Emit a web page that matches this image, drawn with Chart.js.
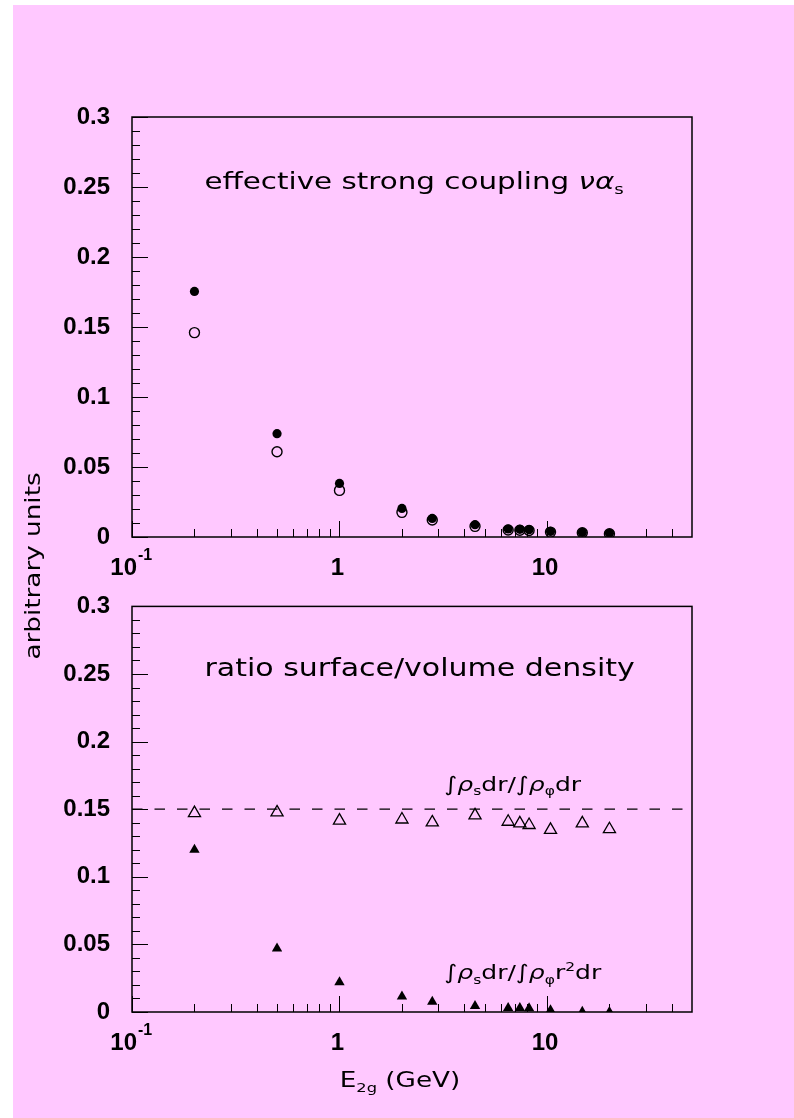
<!DOCTYPE html>
<html>
<head>
<meta charset="utf-8">
<script src="https://cdn.jsdelivr.net/npm/chart.js@4.4.1/dist/chart.umd.min.js"></script>
<style>
  html, body { margin: 0; padding: 0; background: #fff; }
  #page { position: relative; width: 794px; height: 1118px; overflow: hidden; }
  #pink { position: absolute; left: 13px; top: 5px; right: 0; bottom: 0; background: #ffc8ff; }
  canvas { position: absolute; left: 0; }
  #topChart { top: 0; }
  #bottomChart { top: 570px; }
</style>
</head>
<body>
<div id="page">
  <div id="pink"></div>
  <canvas id="topChart" width="794" height="660"></canvas>
  <canvas id="bottomChart" width="794" height="548"></canvas>
</div>
<script>
// E_2g values (GeV), shared by both panels
const energies = [0.2, 0.5, 1, 2, 2.8, 4.5, 6.5, 7.4, 8.2, 10.4, 14.8, 20];

// top panel: effective strong coupling
const couplingFilled = [0.1754, 0.0738, 0.0383, 0.0204, 0.0133, 0.0088, 0.0057, 0.0055, 0.0052, 0.0040, 0.0033, 0.0026];
const couplingOpen   = [0.1460, 0.0609, 0.0333, 0.0176, 0.0121, 0.0076, 0.0050, 0.0048, 0.0046, 0.0035, 0.0030, 0.0023];

// bottom panel: ratio surface/volume density
const ratioOpen   = [0.1471, 0.1476, 0.1416, 0.1424, 0.1402, 0.1454, 0.1407, 0.1395, 0.1383, 0.1347, 0.1395, 0.1352];
const ratioFilled = [0.1200, 0.0470, 0.0220, 0.0115, 0.0075, 0.0044, 0.0029, 0.0029, 0.0028, 0.0013, 0.0001, 0.0000];
const refLineX = [0.1, 45];
const refLineY = 0.15;

// axes
const yMajorTicks = [0, 0.05, 0.1, 0.15, 0.2, 0.25, 0.3];
const yMinorTicks = [0.01, 0.02, 0.03, 0.04, 0.06, 0.07, 0.08, 0.09, 0.11, 0.12, 0.13, 0.14,
                     0.16, 0.17, 0.18, 0.19, 0.21, 0.22, 0.23, 0.24, 0.26, 0.27, 0.28, 0.29];
const xMajorTicks = [0.1, 1, 10];
const xMinorTicks = [0.2, 0.3, 0.4, 0.5, 0.6, 0.7, 0.8, 0.9, 2, 3, 4, 5, 6, 7, 8, 9, 20, 30, 40];
const xTickLabels = ['10', '1', '10'];

const TEXT_FONT = '"DejaVu Sans"';
const TICK_FONT = '"Liberation Sans"';
const TICK_SIZE = 24;
const WIDE = 1.25; // the original plot font is a wide gothic face

const points = ys => energies.map((e, i) => ({ x: e, y: ys[i] }));

// draws text pieces with sub/superscripts, horizontally stretched
function richWidth(ctx, parts, size) {
    let w = 0;
    parts.forEach(p => {
        const fs = (p.sub || p.sup) ? size * 0.62 : size;
        ctx.font = `${p.italic ? 'italic ' : ''}${fs}px ${TEXT_FONT}`;
        w += ctx.measureText(p.t).width;
    });
    return w * WIDE;
}

function drawRich(ctx, parts, x, y, size, align) {
    ctx.save();
    let start = x;
    if (align === 'center') start = x - richWidth(ctx, parts, size) / 2;
    ctx.translate(start, y);
    ctx.scale(WIDE, 1);
    ctx.fillStyle = '#000';
    ctx.textAlign = 'left';
    ctx.textBaseline = 'alphabetic';
    let cx = 0;
    parts.forEach(p => {
        const fs = (p.sub || p.sup) ? size * 0.62 : size;
        ctx.font = `${p.italic ? 'italic ' : ''}${fs}px ${TEXT_FONT}`;
        const dy = p.sub ? size * 0.22 : (p.sup ? -size * 0.42 : 0);
        ctx.fillText(p.t, cx, dy);
        cx += ctx.measureText(p.t).width;
    });
    ctx.restore();
}

// frame, inward ticks, x labels and in-plot texts
function framePlugin(texts, extra) {
    return {
        id: 'frame',
        afterDraw(chart) {
            const { ctx, chartArea: a, scales: { x, y } } = chart;
            ctx.save();
            ctx.strokeStyle = '#000';
            ctx.lineWidth = 1;
            ctx.beginPath();
            yMajorTicks.forEach(v => {
                const py = Math.round(y.getPixelForValue(v)) + 0.5;
                ctx.moveTo(a.left, py); ctx.lineTo(a.left + 16, py);
            });
            yMinorTicks.forEach(v => {
                const py = Math.round(y.getPixelForValue(v)) + 0.5;
                ctx.moveTo(a.left, py); ctx.lineTo(a.left + 8, py);
            });
            xMajorTicks.forEach(v => {
                const px = Math.round(x.getPixelForValue(v)) + 0.5;
                ctx.moveTo(px, a.bottom); ctx.lineTo(px, a.bottom - 16);
            });
            xMinorTicks.forEach(v => {
                const px = Math.round(x.getPixelForValue(v)) + 0.5;
                ctx.moveTo(px, a.bottom); ctx.lineTo(px, a.bottom - 8);
            });
            ctx.stroke();

            ctx.lineWidth = 1.5;
            ctx.strokeRect(a.left, a.top, a.right - a.left, a.bottom - a.top);

            // x tick labels (10^-1, 1, 10)
            ctx.fillStyle = '#000';
            ctx.textBaseline = 'middle';
            const ly = a.bottom + 31;
            xMajorTicks.forEach((v, i) => {
                const px = x.getPixelForValue(v);
                ctx.font = `bold ${TICK_SIZE}px ${TICK_FONT}`;
                if (v < 1) {
                    ctx.textAlign = 'right';
                    ctx.fillText(xTickLabels[i], px + 5, ly);
                    ctx.font = `bold 16px ${TICK_FONT}`;
                    ctx.textAlign = 'left';
                    ctx.fillText('-1', px + 6, ly - 12);
                } else {
                    ctx.textAlign = 'center';
                    ctx.fillText(xTickLabels[i], px - 2, ly);
                }
            });

            texts.forEach(t => {
                drawRich(ctx, t.parts, x.getPixelForValue(t.x), y.getPixelForValue(t.y), t.size, 'left');
            });
            if (extra) extra(chart);
            ctx.restore();
        }
    };
}

function makeChart(id, datasets, padTop, xAxisHeight, texts, extra) {
    return new Chart(document.getElementById(id), {
        type: 'scatter',
        data: { datasets },
        options: {
            responsive: false,
            animation: false,
            events: [],
            layout: { padding: { left: 0, right: 102, top: padTop, bottom: 0 } },
            plugins: { legend: { display: false }, tooltip: { enabled: false } },
            scales: {
                x: {
                    type: 'logarithmic',
                    min: 0.1,
                    max: 50,
                    grid: { display: false, drawTicks: false },
                    border: { display: false },
                    ticks: { display: false },
                    afterFit: s => { s.height = xAxisHeight; }
                },
                y: {
                    min: 0,
                    max: 0.3,
                    grid: { display: false, drawTicks: false },
                    border: { display: false },
                    ticks: {
                        color: '#000',
                        padding: 22,
                        font: { family: 'Liberation Sans', size: TICK_SIZE, weight: 'bold' },
                        callback: v => String(+v.toFixed(2))
                    },
                    afterBuildTicks: s => { s.ticks = yMajorTicks.map(v => ({ value: v })); },
                    afterFit: s => { s.width = 132; }
                }
            }
        },
        plugins: [framePlugin(texts, extra)]
    });
}

// top panel
makeChart('topChart', [
    {
        label: 'filled',
        data: points(couplingFilled),
        pointStyle: 'circle',
        pointRadius: 4.6,
        pointBackgroundColor: '#000',
        pointBorderColor: '#000',
        pointBorderWidth: 0
    },
    {
        label: 'open',
        data: points(couplingOpen),
        pointStyle: 'circle',
        pointRadius: 5,
        pointBackgroundColor: 'rgba(0,0,0,0)',
        pointBorderColor: '#000',
        pointBorderWidth: 1.4
    }
], 117, 123, [
    { x: 0.2234, y: 0.2488, size: 23.5, parts: [
        { t: 'effective strong coupling ' }, { t: 'να', italic: true }, { t: 's', sub: true } ] }
], chart => {
    // shared y-axis title
    const ctx = chart.ctx;
    ctx.save();
    ctx.translate(40, 566);
    ctx.rotate(-Math.PI / 2);
    drawRich(ctx, [{ t: 'arbitrary units' }], 0, 0, 21, 'center');
    ctx.restore();
});

// bottom panel
makeChart('bottomChart', [
    {
        label: 'open triangles',
        data: points(ratioOpen),
        pointStyle: 'triangle',
        pointRadius: 7,
        pointBackgroundColor: 'rgba(0,0,0,0)',
        pointBorderColor: '#000',
        pointBorderWidth: 1.3
    },
    {
        label: 'filled triangles',
        data: points(ratioFilled),
        pointStyle: 'triangle',
        pointRadius: 6,
        pointBackgroundColor: '#000',
        pointBorderColor: '#000',
        pointBorderWidth: 0
    },
    {
        label: 'reference',
        type: 'line',
        data: refLineX.map(v => ({ x: v, y: refLineY })),
        borderColor: '#000',
        borderWidth: 1.2,
        borderDash: [10.5, 12],
        pointRadius: 0,
        fill: false
    }
], 23, 106, [
    { x: 0.2234, y: 0.2488, size: 24, parts: [{ t: 'ratio surface/volume density' }] },
    { x: 3.2, y: 0.1636, size: 20, parts: [
        { t: '∫ρ', italic: true }, { t: 's', sub: true }, { t: 'dr/' }, { t: '∫ρ', italic: true }, { t: 'φ', sub: true }, { t: 'dr' } ] },
    { x: 3.2, y: 0.0243, size: 20, parts: [
        { t: '∫ρ', italic: true }, { t: 's', sub: true }, { t: 'dr/' }, { t: '∫ρ', italic: true }, { t: 'φ', sub: true },
        { t: 'r' }, { t: '2', sup: true }, { t: 'dr' } ] }
], chart => {
    // x-axis title
    drawRich(chart.ctx, [{ t: 'E' }, { t: '2g', sub: true }, { t: ' (GeV)' }], 400, 517, 21, 'center');
});
</script>
</body>
</html>
